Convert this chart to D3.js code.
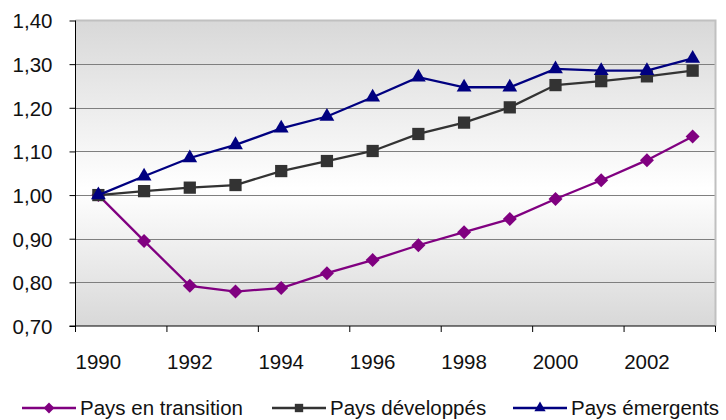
<!DOCTYPE html>
<html lang="fr">
<head>
	<meta charset="utf-8"/>
	<title>Pays en transition, développés, émergents</title>
	<script src="https://d3js.org/d3.v7.min.js"></script>
	<style>
		body { margin: 0; background: #fff; }
		text { font-family: "Liberation Sans", Arial, sans-serif; fill: #111; }
		.axis .domain { display: none; }
	</style>
</head>
<body>
<div id="chart"></div>

<script>
	// data
	var years = [1990, 1991, 1992, 1993, 1994, 1995, 1996, 1997, 1998, 1999, 2000, 2001, 2002, 2003];
	var transition = [1.000, 0.895, 0.792, 0.779, 0.787, 0.821, 0.851, 0.885, 0.915, 0.945, 0.991, 1.034, 1.080, 1.134];
	var developpes = [1.000, 1.009, 1.017, 1.023, 1.055, 1.078, 1.101, 1.140, 1.166, 1.201, 1.252, 1.261, 1.272, 1.285];
	var emergents = [1.000, 1.043, 1.085, 1.115, 1.153, 1.180, 1.224, 1.270, 1.247, 1.247, 1.289, 1.285, 1.285, 1.313];
	var seriesNames = ["Pays en transition", "Pays développés", "Pays émergents"];
	var yTicks = [0.70, 0.80, 0.90, 1.00, 1.10, 1.20, 1.30, 1.40];
	var xLabels = [1990, 1992, 1994, 1996, 1998, 2000, 2002];

	var width = 726,
		height = 420;

	var m = {top: 20.5, right: 10.5, bottom: 94, left: 75.5};

	var svg = d3.select("#chart").append("svg")
		.attr("width", width)
		.attr("height", height);

	var x = d3.scaleBand()
		.domain(years)
		.range([m.left, width - m.right]);

	var y = d3.scaleLinear()
		.domain([0.70, 1.40])
		.range([height - m.bottom, m.top]);

	// plot background: grey - white - grey
	var grad = svg.append("defs").append("linearGradient")
		.attr("id", "bg")
		.attr("x1", 0).attr("y1", 0)
		.attr("x2", 0).attr("y2", 1);
	grad.append("stop").attr("offset", "0%").attr("stop-color", "#d8d8d8");
	grad.append("stop").attr("offset", "55%").attr("stop-color", "#ffffff");
	grad.append("stop").attr("offset", "100%").attr("stop-color", "#d8d8d8");

	svg.append("rect")
		.attr("x", x.range()[0])
		.attr("y", y(1.40))
		.attr("width", x.range()[1] - x.range()[0])
		.attr("height", y(0.70) - y(1.40))
		.attr("fill", "url(#bg)");

	// gridlines
	svg.append("g")
		.selectAll("line")
		.data(yTicks.slice(1, -1))
		.enter().append("line")
			.attr("x1", x.range()[0])
			.attr("x2", x.range()[1])
			.attr("y1", function(d) { return Math.round(y(d)) + 0.5; })
			.attr("y2", function(d) { return Math.round(y(d)) + 0.5; })
			.attr("stroke", "#7f7f7f")
			.attr("stroke-width", 1);

	// grey border top and right
	svg.append("path")
		.attr("d", "M" + x.range()[0] + "," + y(1.40) + "H" + x.range()[1] + "V" + y(0.70))
		.attr("fill", "none")
		.attr("stroke", "#c0c0c0")
		.attr("stroke-width", 2);

	// y axis
	svg.append("g")
		.attr("class", "axis")
		.attr("transform", "translate(" + m.left + ",0)")
		.call(d3.axisLeft(y)
			.tickValues(yTicks)
			.tickSize(6)
			.tickPadding(17)
			.tickFormat(function(d) { return d.toFixed(2).replace(".", ","); }))
		.call(function(g) {
			g.selectAll("line").attr("stroke", "#000");
			g.selectAll("text").attr("font-size", "20.5px").attr("dy", "0.36em");
		});

	// x axis labels at category centres, every other year
	svg.append("g")
		.attr("class", "axis")
		.attr("transform", "translate(0," + y(0.70) + ")")
		.call(d3.axisBottom(x)
			.tickValues(xLabels)
			.tickSize(0)
			.tickPadding(28))
		.call(function(g) {
			g.selectAll("line").remove();
			g.selectAll("text").attr("font-size", "20.5px").attr("dy", "0.71em");
		});

	// x tick marks on category boundaries
	var xTickPos = xLabels.map(function(d) { return x(d); }).concat([x.range()[1]]);
	svg.append("g")
		.selectAll("line")
		.data(xTickPos)
		.enter().append("line")
			.attr("x1", function(d) { return d; })
			.attr("x2", function(d) { return d; })
			.attr("y1", y(0.70))
			.attr("y2", y(0.70) + 6)
			.attr("stroke", "#000");

	// axis lines
	svg.append("line")
		.attr("x1", x.range()[0]).attr("x2", x.range()[0])
		.attr("y1", y(1.40)).attr("y2", y(0.70) + 6)
		.attr("stroke", "#000");
	svg.append("line")
		.attr("x1", x.range()[0] - 6).attr("x2", x.range()[1])
		.attr("y1", y(0.70)).attr("y2", y(0.70))
		.attr("stroke", "#000");

	var colors = ["#800080", "#333333", "#000080"];
	// diamond = square turned 45 degrees
	var symbols = [d3.symbolSquare, d3.symbolSquare, d3.symbolTriangle];
	var turns = [45, 0, 0];
	var sizes = [98, 150, 95];
	var legendSizes = [58, 70, 55];
	var allSeries = [transition, developpes, emergents];

	var cx = function(d, i) { return x(years[i]) + x.bandwidth() / 2; };

	var line = d3.line()
		.x(cx)
		.y(function(d) { return y(d); });

	allSeries.forEach(function(vals, s) {
		var g = svg.append("g");
		g.append("path")
			.datum(vals)
			.attr("d", line)
			.attr("fill", "none")
			.attr("stroke", colors[s])
			.attr("stroke-width", 2.3);

		g.selectAll("path.mk")
			.data(vals)
			.enter().append("path")
				.attr("class", "mk")
				.attr("d", d3.symbol().type(symbols[s]).size(sizes[s]))
				.attr("transform", function(d, i) {
					return "translate(" + cx(d, i) + "," + y(d) + ") rotate(" + turns[s] + ")";
				})
				.attr("fill", colors[s]);
	});

	// legend
	var legendX = [22, 272, 513];
	var legend = svg.append("g")
		.selectAll("g")
		.data(seriesNames)
		.enter().append("g")
			.attr("transform", function(d, i) { return "translate(" + legendX[i] + ",408)"; });

	legend.append("line")
		.attr("x1", 0).attr("x2", 54)
		.attr("y1", 0).attr("y2", 0)
		.attr("stroke", function(d, i) { return colors[i]; })
		.attr("stroke-width", 2.3);

	legend.append("path")
		.attr("d", function(d, i) { return d3.symbol().type(symbols[i]).size(legendSizes[i])(); })
		.attr("transform", function(d, i) { return "translate(27,0) rotate(" + turns[i] + ")"; })
		.attr("fill", function(d, i) { return colors[i]; });

	legend.append("text")
		.attr("x", 58)
		.attr("dy", "0.36em")
		.attr("font-size", "20.5px")
		.text(function(d) { return d; });
</script>
</body>
</html>
